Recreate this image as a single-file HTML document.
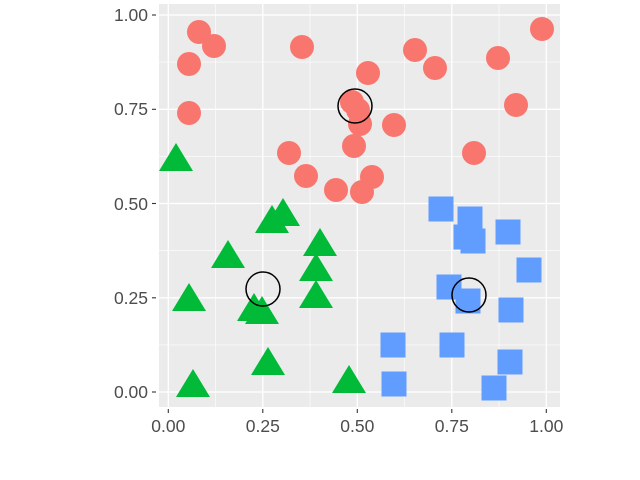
<!DOCTYPE html>
<html><head><style>body{margin:0;background:#fff}svg{display:block}</style></head><body>
<svg width="640" height="480" xmlns="http://www.w3.org/2000/svg" font-family="Liberation Sans, sans-serif">
<rect width="640" height="480" fill="#fff"/>
<rect x="159" y="4" width="401" height="403" fill="#ebebeb"/>
<g stroke="#fff" stroke-width="0.6">
<line x1="215.5" y1="4" x2="215.5" y2="407"/><line x1="310" y1="4" x2="310" y2="407"/><line x1="404.5" y1="4" x2="404.5" y2="407"/><line x1="499" y1="4" x2="499" y2="407"/>
<line x1="159" y1="344.9" x2="560" y2="344.9"/><line x1="159" y1="250.6" x2="560" y2="250.6"/><line x1="159" y1="156.4" x2="560" y2="156.4"/><line x1="159" y1="62.1" x2="560" y2="62.1"/>
</g>
<g stroke="#fff" stroke-width="1.3">
<line x1="168.3" y1="4" x2="168.3" y2="407"/><line x1="262.8" y1="4" x2="262.8" y2="407"/><line x1="357.3" y1="4" x2="357.3" y2="407"/><line x1="451.8" y1="4" x2="451.8" y2="407"/><line x1="546.3" y1="4" x2="546.3" y2="407"/>
<line x1="159" y1="392" x2="560" y2="392"/><line x1="159" y1="297.8" x2="560" y2="297.8"/><line x1="159" y1="203.5" x2="560" y2="203.5"/><line x1="159" y1="109.3" x2="560" y2="109.3"/><line x1="159" y1="15" x2="560" y2="15"/>
</g>
<g fill="#f8766d">
<circle cx="199" cy="32" r="12"/><circle cx="214" cy="46" r="12"/><circle cx="189" cy="64" r="12"/><circle cx="189" cy="113" r="12"/><circle cx="302" cy="47" r="12"/><circle cx="415" cy="50" r="12"/><circle cx="435" cy="68" r="12"/><circle cx="368" cy="73" r="12"/><circle cx="498" cy="58" r="12"/><circle cx="542" cy="29" r="12"/><circle cx="516" cy="105" r="12"/><circle cx="352" cy="102" r="12"/><circle cx="358" cy="110" r="12"/><circle cx="360" cy="124" r="12"/><circle cx="394" cy="125" r="12"/><circle cx="354" cy="146" r="12"/><circle cx="289" cy="153" r="12"/><circle cx="306" cy="176" r="12"/><circle cx="336" cy="190" r="12"/><circle cx="362" cy="192" r="12"/><circle cx="372" cy="177" r="12"/><circle cx="474" cy="153" r="12"/>
</g>
<g fill="#00ba38">
<path d="M0,-18 L17,10 L-17,10Z" transform="translate(176,161)"/>
<path d="M0,-18 L17,10 L-17,10Z" transform="translate(283,216)"/>
<path d="M0,-18 L17,10 L-17,10Z" transform="translate(272,223)"/>
<path d="M0,-18 L17,10 L-17,10Z" transform="translate(320,246)"/>
<path d="M0,-18 L17,10 L-17,10Z" transform="translate(316,271)"/>
<path d="M0,-18 L17,10 L-17,10Z" transform="translate(316,298)"/>
<path d="M0,-18 L17,10 L-17,10Z" transform="translate(228,258)"/>
<path d="M0,-18 L17,10 L-17,10Z" transform="translate(189,301)"/>
<path d="M0,-18 L17,10 L-17,10Z" transform="translate(254,311)"/>
<path d="M0,-18 L17,10 L-17,10Z" transform="translate(262,314)"/>
<path d="M0,-18 L17,10 L-17,10Z" transform="translate(268,365)"/>
<path d="M0,-18 L17,10 L-17,10Z" transform="translate(193,387)"/>
<path d="M0,-18 L17,10 L-17,10Z" transform="translate(349,383)"/>
</g>
<g fill="#619cff">
<rect x="428.5" y="196.5" width="25" height="25"/><rect x="457.5" y="206.5" width="25" height="25"/><rect x="453.5" y="224.5" width="25" height="25"/><rect x="460.5" y="228.5" width="25" height="25"/><rect x="495.5" y="219.5" width="25" height="25"/><rect x="516.5" y="257.5" width="25" height="25"/><rect x="436.5" y="274.5" width="25" height="25"/><rect x="455.5" y="288.5" width="25" height="25"/><rect x="498.5" y="297.5" width="25" height="25"/><rect x="380.5" y="332.5" width="25" height="25"/><rect x="439.5" y="332.5" width="25" height="25"/><rect x="497.5" y="349.5" width="25" height="25"/><rect x="381.5" y="371.5" width="25" height="25"/><rect x="481.5" y="375.5" width="25" height="25"/>
</g>
<g fill="none" stroke="#000" stroke-width="1.5">
<circle cx="355" cy="106" r="17"/><circle cx="263" cy="289" r="17"/><circle cx="469" cy="295" r="17"/>
</g>
<g stroke="#333" stroke-width="1.1">
<line x1="152" y1="392" x2="156" y2="392"/><line x1="152" y1="297.8" x2="156" y2="297.8"/><line x1="152" y1="203.5" x2="156" y2="203.5"/><line x1="152" y1="109.3" x2="156" y2="109.3"/><line x1="152" y1="15" x2="156" y2="15"/>
<line x1="168.3" y1="409" x2="168.3" y2="413"/><line x1="262.8" y1="409" x2="262.8" y2="413"/><line x1="357.3" y1="409" x2="357.3" y2="413"/><line x1="451.8" y1="409" x2="451.8" y2="413"/><line x1="546.3" y1="409" x2="546.3" y2="413"/>
</g>
<g fill="#4d4d4d" font-size="17.5" text-anchor="end">
<text x="148" y="398">0.00</text><text x="148" y="304">0.25</text><text x="148" y="210">0.50</text><text x="148" y="115">0.75</text><text x="148" y="21">1.00</text>
</g>
<g fill="#4d4d4d" font-size="17.5" text-anchor="middle">
<text x="168.3" y="432">0.00</text><text x="262.8" y="432">0.25</text><text x="357.3" y="432">0.50</text><text x="451.8" y="432">0.75</text><text x="546.3" y="432">1.00</text>
</g>
</svg>
</body></html>
